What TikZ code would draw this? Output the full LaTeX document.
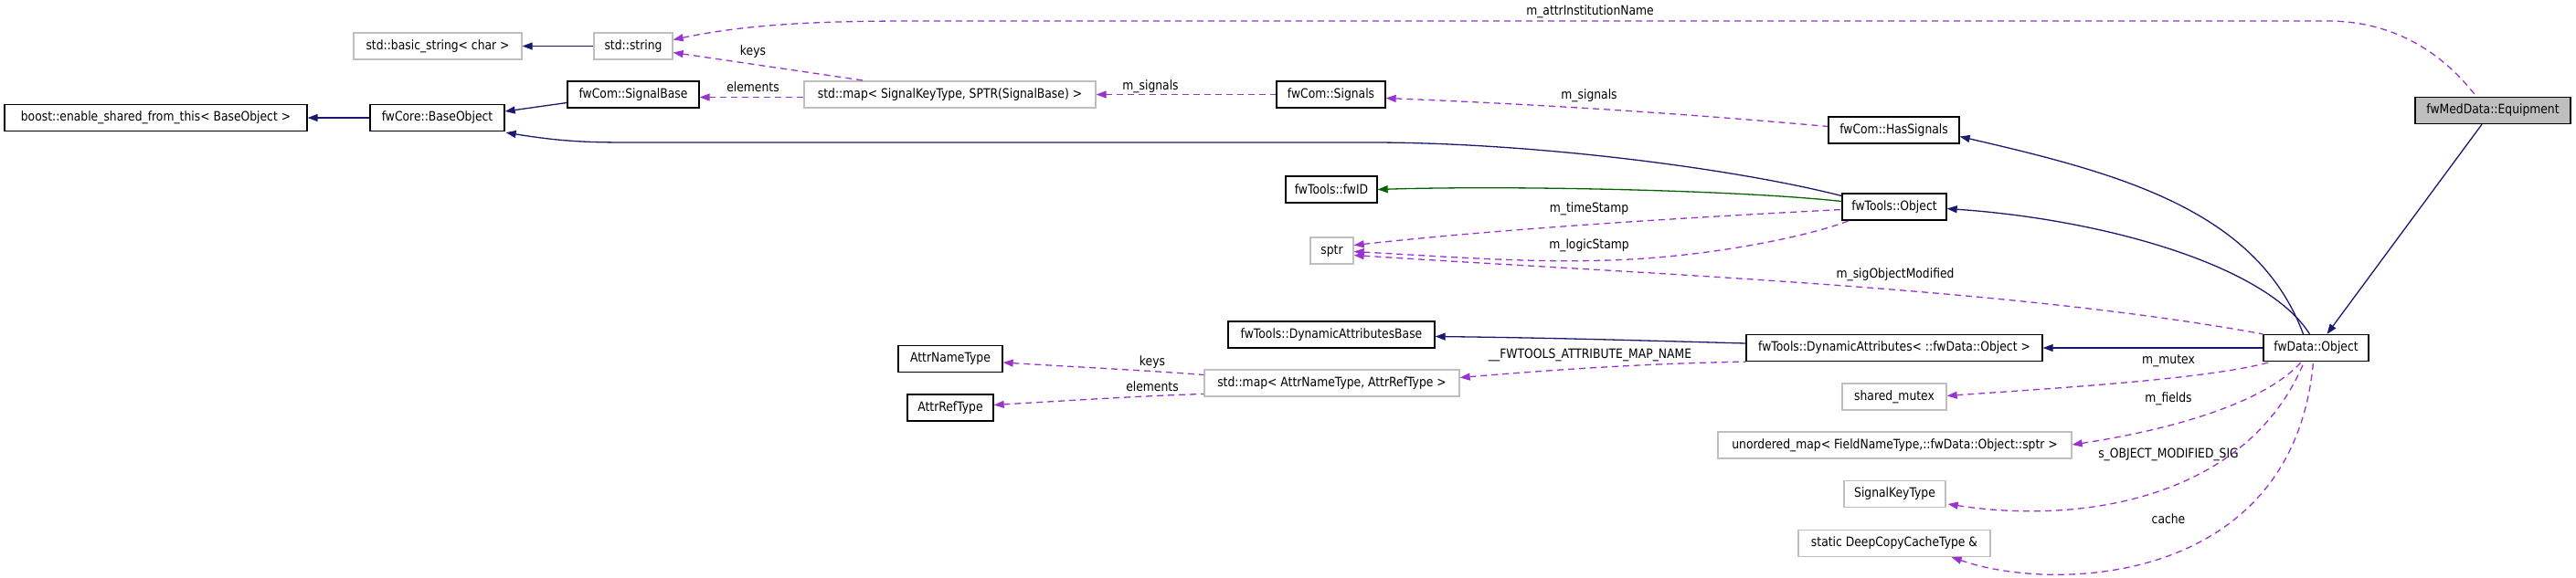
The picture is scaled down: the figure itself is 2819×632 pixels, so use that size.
\documentclass[tikz,border=0pt]{standalone}
\usepackage{fontspec}
\setmainfont{DejaVu Sans}[FakeStretch=0.87]
\usetikzlibrary{arrows.meta,calc}
\definecolor{navy}{HTML}{191970}
\definecolor{dgreen}{HTML}{006400}
\definecolor{orch}{HTML}{9A32CD}
\definecolor{gbord}{HTML}{BFBFBF}
\begin{document}
\begin{tikzpicture}[x=1pt,y=-1pt,
  box/.style={draw=black, line width=1.3pt, inner sep=0pt, minimum height=29pt, fill=white, font=\fontsize{14.2}{16}\selectfont},
  ubox/.style={box, draw=gbord},
  tip/.style={{Triangle[length=11pt,width=8pt]}-},
  inh/.style={draw=navy, line width=1.3pt, tip},
  prot/.style={draw=dgreen, line width=1.3pt, tip},
  dep/.style={draw=orch, line width=1.3pt, dash pattern=on 7pt off 5pt, tip},
  lbl/.style={inner sep=0pt, font=\fontsize{14.2}{16}\selectfont}]
\useasboundingbox (0,0) rectangle (2819,632);
% nodes
\node[ubox, minimum width=184pt] (bstr) at (479,50.5) {std::basic\_string< char >};
\node[ubox, minimum width=86pt] (str) at (693,50.5) {std::string};
\node[box, minimum width=331pt] (boost) at (170.5,129) {boost::enable\_shared\_from\_this< BaseObject >};
\node[box, minimum width=147pt] (base) at (478.5,129) {fwCore::BaseObject};
\node[box, minimum width=144pt] (sigb) at (693,103.5) {fwCom::SignalBase};
\node[ubox, minimum width=319pt] (mapsk) at (1039.5,103.5) {std::map< SignalKeyType, SPTR(SignalBase) >};
\node[box, minimum width=119pt] (sigs) at (1456.5,103.5) {fwCom::Signals};
\node[box, minimum width=143pt] (has) at (2072.5,142.5) {fwCom::HasSignals};
\node[box, minimum width=170pt, fill=gbord] (eq) at (2728,121) {fwMedData::Equipment};
\node[box, minimum width=100pt] (fwid) at (1457,207.5) {fwTools::fwID};
\node[box, minimum width=114pt] (obj) at (2073,226.5) {fwTools::Object};
\node[ubox, minimum width=47pt] (sptr) at (1457.5,274.5) {sptr};
\node[box, minimum width=226pt] (dab) at (1457,366.5) {fwTools::DynamicAttributesBase};
\node[box, minimum width=324pt] (da) at (2073,381) {fwTools::DynamicAttributes< ::fwData::Object >};
\node[box, minimum width=115pt] (data) at (2534.5,381) {fwData::Object};
\node[box, minimum width=114pt] (ant) at (1040,393) {AttrNameType};
\node[box, minimum width=94pt] (art) at (1040,446.5) {AttrRefType};
\node[ubox, minimum width=279pt] (mapat) at (1457.5,419.5) {std::map< AttrNameType, AttrRefType >};
\node[ubox, minimum width=114pt] (mutex) at (2073,434.5) {shared\_mutex};
\node[ubox, minimum width=387pt] (umap) at (2073.5,487.5) {unordered\_map< FieldNameType,::fwData::Object::sptr >};
\node[ubox, minimum width=111pt] (skt) at (2073.5,541) {SignalKeyType};
\node[ubox, minimum width=210pt] (dcc) at (2073,595) {static DeepCopyCacheType \&};
% edges
\draw[inh] (bstr.east) -- (str.west);
\draw[dep] ($(str.east)+(0,-7)$) .. controls (820,26) and (900,23) .. (1000,23) -- (2547,23) .. controls (2640,23) and (2690,80) .. ($(eq.north)+(-18,0)$);
\node[lbl] (l1) at (1740,13) {m\_attrInstitutionName};
\draw[dep] ($(str.east)+(0,7)$) -- ($(mapsk.north west)+(67,0)$);
\node[lbl] (l2) at (824,57) {keys};
\draw[dep] ($(sigb.east)+(0,3)$) -- ($(mapsk.west)+(0,3)$);
\node[lbl] (l3) at (824,95) {elements};
\draw[inh] ($(base.east)+(0,-7)$) -- ($(sigb.west)+(0,9)$);
\draw[inh] (boost.east) -- (base.west);
\draw[dep] (mapsk.east) -- (sigs.west);
\node[lbl] (l4) at (1259,95) {m\_signals};
\draw[dep] ($(sigs.east)+(0,4)$) .. controls (1700,115) and (1850,125) .. ($(has.west)+(0,-4)$);
\node[lbl] (l5) at (1739,105) {m\_signals};
\draw[inh] ($(base.south east)+(1,1)$) .. controls (620,156) and (650,156) .. (700,156) -- (1500,156) .. controls (1680,156) and (1900,185) .. ($(obj.west)+(0,-12)$);
\draw[prot] (fwid.east) .. controls (1650,203) and (1900,208) .. ($(obj.west)+(0,-6)$);
\draw[dep] ($(sptr.east)+(0,-6)$) .. controls (1650,250) and (1850,238) .. ($(obj.west)+(0,3)$);
\node[lbl] (l6) at (1739,229) {m\_timeStamp};
\draw[dep] ($(sptr.east)+(0,1)$) .. controls (1600,282) and (1700,290) .. (1800,283) .. controls (1900,276) and (1990,255) .. ($(obj.south west)+(8,0)$);
\node[lbl] (l7) at (1739,269) {m\_logicStamp};
\draw[dep] ($(sptr.east)+(0,5)$) .. controls (1800,300) and (2200,315) .. (data.north west);
\node[lbl] (l8) at (2074,301) {m\_sigObjectModified};
\draw[inh] ($(has.east)+(0,7)$) .. controls (2320,190) and (2470,230) .. ($(data.north)+(-14,0)$);
\draw[inh] ($(obj.east)+(0,2)$) .. controls (2300,240) and (2480,290) .. ($(data.north)+(-7,0)$);
\draw[inh] ($(data.north)+(12,0)$) -- ($(eq.south)+(-12,0)$);
\draw[inh] ($(dab.east)+(0,2)$) .. controls (1700,370) and (1800,373) .. ($(da.west)+(0,-5)$);
\draw[inh] (da.east) -- (data.west);
\draw[dep] ($(mapat.east)+(0,-6)$) .. controls (1700,405) and (1800,398) .. (da.south west);
\node[lbl] (l9) at (1740,389) {\_\_FWTOOLS\_ATTRIBUTE\_MAP\_NAME};
\draw[dep] ($(ant.east)+(0,4)$) .. controls (1180,402) and (1260,406) .. ($(mapat.west)+(0,-9)$);
\node[lbl] (l10) at (1261,397) {keys};
\draw[dep] ($(art.east)+(0,-3)$) .. controls (1180,438) and (1260,433) .. ($(mapat.west)+(0,12)$);
\node[lbl] (l11) at (1261,423) {elements};
\draw[dep] ($(mutex.east)+(0,-1)$) .. controls (2250,425) and (2420,415) .. ($(data.south west)+(9,0)$);
\node[lbl] (l12) at (2373,395) {m\_mutex};
\draw[dep] ($(umap.east)+(0,-0.5)$) .. controls (2380,470) and (2480,440) .. ($(data.south)+(-16,0)$);
\node[lbl] (l13) at (2373,437) {m\_fields};
\draw[dep] ($(skt.east)+(2,11)$) .. controls (2280,575) and (2460,545) .. ($(data.south)+(-13,0)$);
\node[lbl] (l14) at (2373,498) {s\_OBJECT\_MODIFIED\_SIG};
\draw[dep] ($(dcc.south east)+(-43,0)$) .. controls (2250,650) and (2510,640) .. ($(data.south)+(-3,0)$);
\node[lbl] (l15) at (2373,568) {cache};
\end{tikzpicture}
\end{document}
